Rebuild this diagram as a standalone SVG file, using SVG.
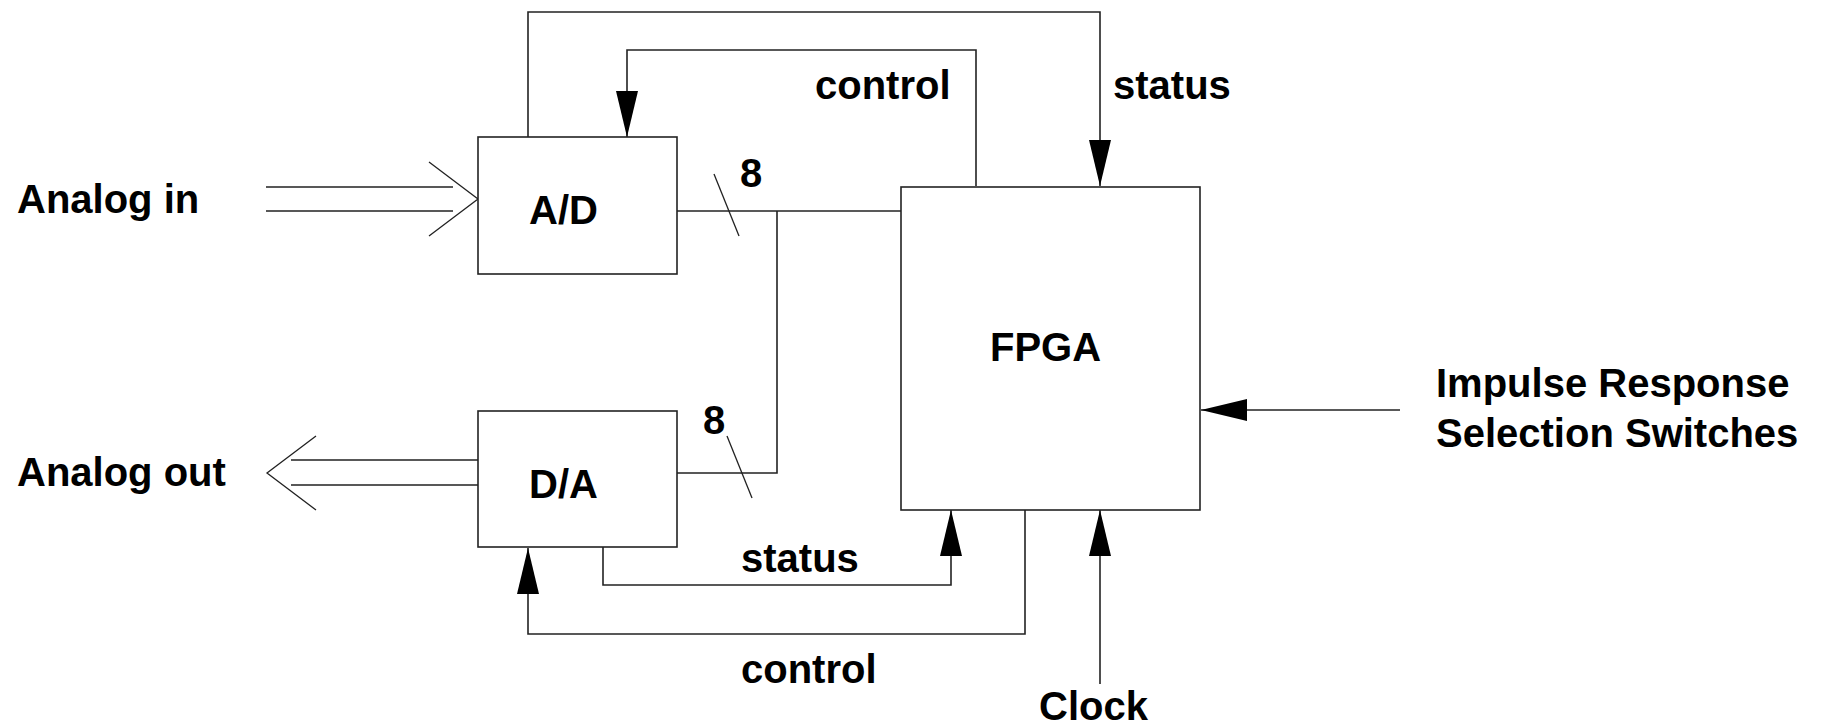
<svg xmlns="http://www.w3.org/2000/svg" width="1821" height="725" viewBox="0 0 1821 725">
<style>
  .box { fill: #fff; stroke: #222; stroke-width: 1.6; }
  .ln { fill: none; stroke: #222; stroke-width: 1.6; }
  .thin { fill: none; stroke: #222; stroke-width: 1.3; }
  text { font-family: "Liberation Sans", Arial, Helvetica, sans-serif; font-weight: bold; font-size: 40px; fill: #000; }
</style>
<defs>
  <marker id="arr" viewBox="0 0 46 22" refX="46" refY="11" markerWidth="46" markerHeight="22" markerUnits="userSpaceOnUse" orient="auto">
    <path d="M0,0 L46,11 L0,22 Z" fill="#000"/>
  </marker>
</defs>
<rect width="1821" height="725" fill="#fff"/>

<g id="connectors">
  <path class="ln" d="M528,137 V12 H1100 V186" marker-end="url(#arr)"/>
  <path class="ln" d="M976,186 V50 H627 V137" marker-end="url(#arr)"/>
  <path class="thin" d="M266,187 H453 M266,211 H453"/>
  <polyline class="thin" points="429,162 478,199 429,236"/>
  <path class="ln" d="M677,211 H901"/>
  <path class="ln" d="M777,211 V473 H677"/>
  <path class="thin" d="M714,174 L739,236"/>
  <path class="thin" d="M727,436 L752,498"/>
  <path class="thin" d="M291,460 H478 M291,485 H478"/>
  <polyline class="thin" points="316,436 267,473 316,510"/>
  <path class="ln" d="M603,547 V585 H951 V510" marker-end="url(#arr)"/>
  <path class="ln" d="M1025,510 V634 H528 V548" marker-end="url(#arr)"/>
  <path class="ln" d="M1100,684 V510" marker-end="url(#arr)"/>
  <path class="ln" d="M1400,410 H1201" marker-end="url(#arr)"/>
</g>

<g id="node-ad">
  <rect class="box" x="478" y="137" width="199" height="137"/>
  <text x="529" y="224">A/D</text>
</g>
<g id="node-da">
  <rect class="box" x="478" y="411" width="199" height="136"/>
  <text x="529" y="498">D/A</text>
</g>
<g id="node-fpga">
  <rect class="box" x="901" y="187" width="299" height="323"/>
  <text x="990" y="361">FPGA</text>
</g>

<g id="labels">
  <text x="17" y="213">Analog in</text>
  <text x="17" y="486">Analog out</text>
  <text x="815" y="99">control</text>
  <text x="1113" y="99">status</text>
  <text x="740" y="187">8</text>
  <text x="703" y="434">8</text>
  <text x="741" y="572">status</text>
  <text x="741" y="683">control</text>
  <text x="1039" y="720">Clock</text>
  <text x="1436" y="397">Impulse Response</text>
  <text x="1436" y="447">Selection Switches</text>
</g>
</svg>
